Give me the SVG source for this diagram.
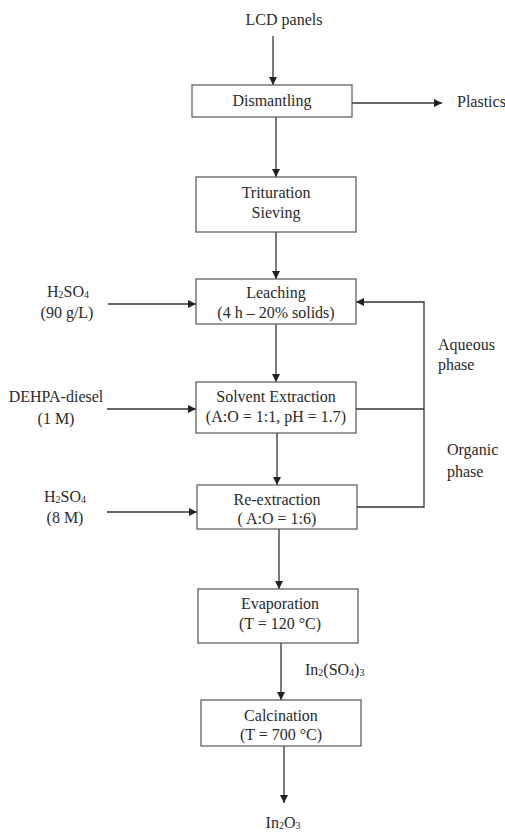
<svg xmlns="http://www.w3.org/2000/svg" width="505" height="832" viewBox="0 0 505 832">
  <style>
    .box { fill: #fff; stroke: #555; stroke-width: 1.2; }
    .ln { fill: none; stroke: #333; stroke-width: 1.3; }
    text { font-family: "Liberation Serif", "Times New Roman", serif; font-size: 16px; fill: #2a2a2a; }
    .c { text-anchor: middle; }
    .sub { font-size: 10px; }
  </style>
  <defs>
    <marker id="arrow" viewBox="0 0 10 10" refX="10" refY="5" markerWidth="8" markerHeight="8" markerUnits="userSpaceOnUse" orient="auto">
      <path d="M0,0 L10,5 L0,10 Z" fill="#222"/>
    </marker>
  </defs>
  <rect width="505" height="832" fill="#fff"/>

  <g id="connectors">
    <line class="ln" x1="273" y1="36" x2="273" y2="85" marker-end="url(#arrow)"/>
    <line class="ln" x1="352" y1="103" x2="442" y2="103" marker-end="url(#arrow)"/>
    <line class="ln" x1="276" y1="117" x2="276" y2="177" marker-end="url(#arrow)"/>
    <line class="ln" x1="276" y1="232" x2="276" y2="279" marker-end="url(#arrow)"/>
    <line class="ln" x1="108" y1="304" x2="196" y2="304" marker-end="url(#arrow)"/>
    <line class="ln" x1="276" y1="324" x2="276" y2="382" marker-end="url(#arrow)"/>
    <line class="ln" x1="107" y1="409" x2="196" y2="409" marker-end="url(#arrow)"/>
    <line class="ln" x1="356" y1="409" x2="424" y2="409"/>
    <line class="ln" x1="277" y1="433" x2="277" y2="485" marker-end="url(#arrow)"/>
    <line class="ln" x1="107" y1="512" x2="197" y2="512" marker-end="url(#arrow)"/>
    <polyline class="ln" points="357,507 424,507 424,302 356,302" marker-end="url(#arrow)"/>
    <line class="ln" x1="279" y1="529" x2="279" y2="589" marker-end="url(#arrow)"/>
    <line class="ln" x1="281" y1="643" x2="281" y2="700" marker-end="url(#arrow)"/>
    <line class="ln" x1="284" y1="746" x2="284" y2="803" marker-end="url(#arrow)"/>
  </g>

  <g id="lcd-panels"><text class="c" x="284" y="25">LCD panels</text></g>

  <g id="dismantling">
    <rect class="box" x="192" y="85" width="160" height="32"/>
    <text class="c" x="272" y="106">Dismantling</text>
  </g>

  <g id="plastics"><text x="457" y="107">Plastics</text></g>

  <g id="trituration">
    <rect class="box" x="196" y="177" width="160" height="55"/>
    <text class="c" x="276" y="198">Trituration</text>
    <text class="c" x="276" y="218">Sieving</text>
  </g>

  <g id="h2so4-leach">
    <text class="c" x="68" y="297">H<tspan class="sub" dy="1">2</tspan><tspan dy="-1">SO</tspan><tspan class="sub" dy="1">4</tspan></text>
    <text class="c" x="67" y="318">(90 g/L)</text>
  </g>

  <g id="leaching">
    <rect class="box" x="196" y="279" width="160" height="45"/>
    <text class="c" x="276" y="298">Leaching</text>
    <text class="c" x="276" y="318">(4 h – 20% solids)</text>
  </g>

  <g id="aqueous-phase">
    <text x="438" y="350">Aqueous</text>
    <text x="438" y="370">phase</text>
  </g>

  <g id="dehpa">
    <text class="c" x="56" y="402">DEHPA-diesel</text>
    <text class="c" x="56" y="424">(1 M)</text>
  </g>

  <g id="solvent-extraction">
    <rect class="box" x="196" y="382" width="160" height="51"/>
    <text class="c" x="276" y="402">Solvent Extraction</text>
    <text class="c" x="276" y="422">(A:O = 1:1, pH = 1.7)</text>
  </g>

  <g id="organic-phase">
    <text x="447" y="455">Organic</text>
    <text x="447" y="477">phase</text>
  </g>

  <g id="h2so4-strip">
    <text class="c" x="65" y="502">H<tspan class="sub" dy="1">2</tspan><tspan dy="-1">SO</tspan><tspan class="sub" dy="1">4</tspan></text>
    <text class="c" x="65" y="523">(8 M)</text>
  </g>

  <g id="re-extraction">
    <rect class="box" x="197" y="485" width="160" height="44"/>
    <text class="c" x="277" y="505">Re-extraction</text>
    <text class="c" x="277" y="524">( A:O = 1:6)</text>
  </g>

  <g id="evaporation">
    <rect class="box" x="198" y="589" width="160" height="54"/>
    <text class="c" x="280" y="609">Evaporation</text>
    <text class="c" x="280" y="629">(T = 120 °C)</text>
  </g>

  <g id="indium-sulfate">
    <text x="305" y="675">In<tspan class="sub" dy="1">2</tspan><tspan dy="-1">(SO</tspan><tspan class="sub" dy="1">4</tspan><tspan dy="-1">)</tspan><tspan class="sub" dy="1">3</tspan></text>
  </g>

  <g id="calcination">
    <rect class="box" x="201" y="700" width="160" height="46"/>
    <text class="c" x="281" y="721">Calcination</text>
    <text class="c" x="281" y="740">(T = 700 °C)</text>
  </g>

  <g id="indium-oxide">
    <text class="c" x="283" y="828">In<tspan class="sub" dy="1">2</tspan><tspan dy="-1">O</tspan><tspan class="sub" dy="1">3</tspan></text>
  </g>
</svg>
